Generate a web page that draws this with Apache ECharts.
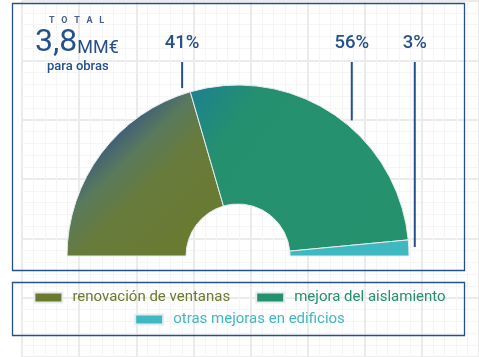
<!DOCTYPE html>
<html>
<head>
<meta charset="utf-8">
<script src="https://cdn.jsdelivr.net/npm/echarts@6/dist/echarts.min.js"></script>
<style>
html,body{margin:0;padding:0;background:#fff;}
#chart{width:479px;height:357px;}
</style>
</head>
<body>
<div id="chart"></div>
<script>
// ---- data ----
const categories = ['renovación de ventanas', 'mejora del aislamiento', 'otras mejoras en edificios'];
const shares = [41, 56, 3];
const totalValue = '3,8';
const totalUnit = 'MM€';
const totalCaption = 'para obras';
const totalHeader = 'TOTAL';

// ---- layout / style ----
const BLUE = '#24508c';
const legendColors = ['#6b7a2c', '#24906c', '#40b8c1'];
const PIE_CX = 238, PIE_CY = 256, R_IN = 52, R_OUT = 171;
const labelAngles = [108.4, 50, 2.9];
const LINE_TOP = 62, LABEL_BOTTOM = 53;
const FONT = 'Roboto, "Noto Sans", sans-serif';

const sliceColors = [
  {type:'linear', x:0, y:0, x2:1, y2:1, colorStops:[
    {offset:0, color:'#1f4a8a'},
    {offset:0.27, color:'#3d5b7a'},
    {offset:0.4, color:'#5a7a5c'},
    {offset:0.55, color:'#677b3c'},
    {offset:1, color:'#6b7a2b'}]},
  {type:'linear', x:0, y:0, x2:1, y2:1, colorStops:[
    {offset:0, color:'#1d7f92'},
    {offset:0.22, color:'#24906f'},
    {offset:1, color:'#25916c'}]},
  '#40b8c1'
];

const chart = echarts.init(document.getElementById('chart'), null, {renderer:'canvas'});

const pieData = categories.map((name, i) => ({
  name: name,
  value: shares[i],
  itemStyle: {color: sliceColors[i]}
}));

const option = {
  animation: false,
  backgroundColor: '#fff',
  grid: {left: 22, top: 1, width: 62 * 8, height: 61.3 * 6, show: false},
  xAxis: {
    type: 'value', min: 0, max: 8, interval: 1,
    axisLine: {show: false}, axisTick: {show: false}, axisLabel: {show: false},
    splitLine: {show: true, lineStyle: {color: '#ebebeb', width: 2}},
    minorTick: {show: false, splitNumber: 5},
    minorSplitLine: {show: true, lineStyle: {color: '#f5f5f5', width: 1}}
  },
  yAxis: {
    type: 'value', min: 0, max: 6, interval: 1,
    axisLine: {show: false}, axisTick: {show: false}, axisLabel: {show: false},
    splitLine: {show: true, lineStyle: {color: '#ebebeb', width: 2}},
    minorTick: {show: false, splitNumber: 5},
    minorSplitLine: {show: true, lineStyle: {color: '#f5f5f5', width: 1}}
  },
  title: [
    {text: totalHeader.split('').join('   '), left: 49, top: 16, padding: 0,
     textStyle: {fontFamily: FONT, fontSize: 9, fontWeight: 'bold', color: '#4a5d8e'}},
    {text: '{a|' + totalValue + '}{b|' + totalUnit + '}', left: 35, top: 25, padding: 0,
     textStyle: {fontWeight: 'normal', rich: {
       a: {fontFamily: FONT, fontSize: 32, fontWeight: 'normal', color: BLUE, verticalAlign: 'bottom', lineHeight: 34},
       b: {fontFamily: FONT, fontSize: 18, fontWeight: 'normal', color: BLUE, verticalAlign: 'bottom', lineHeight: 34, padding:[0,0,2,0]}
     }}},
    {text: totalCaption, left: 47, top: 60, padding: 0,
     textStyle: {fontFamily: FONT, fontSize: 13, fontWeight: 500, color: BLUE}}
  ],
  legend: [
    {data: categories.slice(0, 2).map((n, i) => ({name: n, itemStyle: {color: legendColors[i]}, textStyle: {color: legendColors[i]}})),
     left: 'center', top: 290, padding: 0, itemGap: 25, itemWidth: 28, itemHeight: 10, icon: 'rect',
     textStyle: {fontFamily: FONT, fontSize: 15, padding: [0, 0, 0, 5]}},
    {data: categories.slice(2).map((n, i) => ({name: n, itemStyle: {color: legendColors[i + 2]}, textStyle: {color: legendColors[i + 2]}})),
     left: 'center', top: 312, padding: 0, itemGap: 25, itemWidth: 28, itemHeight: 10, icon: 'rect',
     textStyle: {fontFamily: FONT, fontSize: 15, padding: [0, 0, 0, 5]}}
  ],
  graphic: [
    {type: 'rect', shape: {x: 12.5, y: 3.5, width: 452, height: 267}, style: {fill: 'none', stroke: BLUE, lineWidth: 1.3}, silent: true, z: 10},
    {type: 'rect', shape: {x: 12.5, y: 282.5, width: 452, height: 53}, style: {fill: 'none', stroke: BLUE, lineWidth: 1.3}, silent: true, z: 10}
  ],
  series: [{
    type: 'pie',
    center: [PIE_CX, PIE_CY],
    radius: [R_IN, R_OUT],
    startAngle: 180,
    endAngle: 0,
    clockwise: true,
    avoidLabelOverlap: false,
    itemStyle: {borderColor: '#e6ecee', borderWidth: 1},
    emphasis: {disabled: true},
    label: {
      show: true, position: 'outside', formatter: '{c}%',
      fontFamily: FONT, fontSize: 18.5, fontWeight: 500, color: BLUE
    },
    labelLine: {show: true, lineStyle: {color: BLUE, width: 2}},
    labelLayout: function (p) {
      const a = labelAngles[p.dataIndex] * Math.PI / 180;
      const r = R_OUT + 6;
      const x = PIE_CX + r * Math.cos(a);
      const y = PIE_CY - r * Math.sin(a);
      return {
        x: x, y: LABEL_BOTTOM, align: 'center', verticalAlign: 'bottom',
        labelLinePoints: [[x, y], [x, LINE_TOP], [x, LINE_TOP]]
      };
    },
    data: pieData
  }]
};
chart.setOption(option);
</script>
</body>
</html>
